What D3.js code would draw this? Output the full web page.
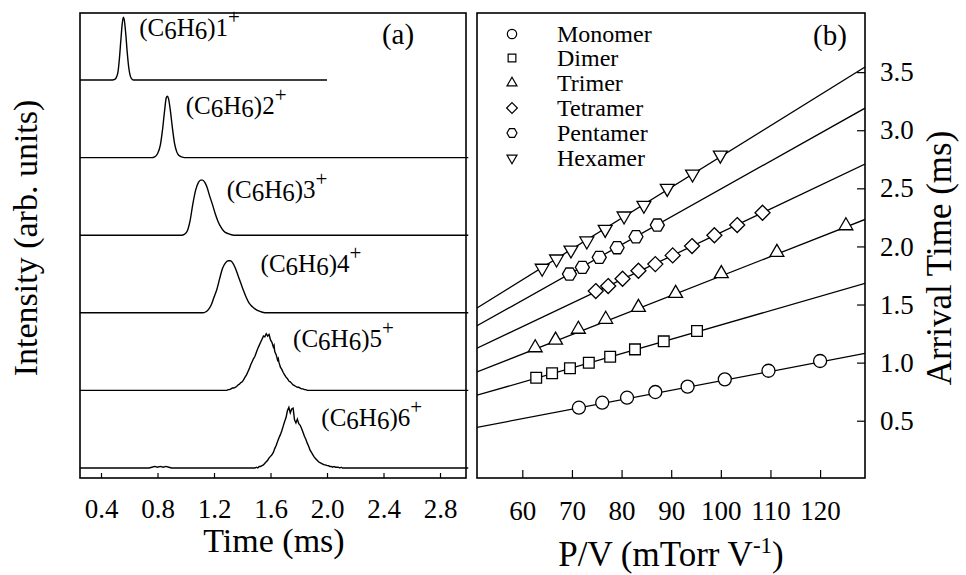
<!DOCTYPE html>
<html><head><meta charset="utf-8">
<script src="https://cdn.jsdelivr.net/npm/d3@7"></script>
<style>
html,body{margin:0;padding:0;background:#fff;}
svg{display:block;}
svg text{font-family:'Liberation Serif','Times New Roman','DejaVu Serif',serif !important;}
</style></head>
<body>
<svg id="chart" width="966" height="575"></svg>
<script>
// ---------- Panel (a): time-of-flight traces ----------
const traceNames = ["1","2","3","4","5","6"];
const traceOffsets = [5,4,3,2,1,0];
const trace1 = [[0.25,0],[0.48,0],[0.50,0.01],[0.51,0.04],[0.52,0.1],[0.53,0.27],[0.54,0.5],[0.55,0.72],[0.558,0.81],[0.565,0.77],[0.575,0.6],[0.585,0.37],[0.595,0.18],[0.605,0.07],[0.615,0.02],[0.63,0],[2.0,0]];
const trace2 = [[0.25,0],[0.76,0],[0.78,0.01],[0.80,0.05],[0.82,0.16],[0.835,0.35],[0.85,0.6],[0.862,0.77],[0.87,0.79],[0.878,0.76],[0.89,0.62],[0.905,0.39],[0.92,0.19],[0.935,0.08],[0.95,0.03],[0.97,0.01],[0.99,0],[3.0,0]];
const trace3 = [[0.25,0],[0.97,0],[0.99,0.01],[1.01,0.05],[1.03,0.18],[1.05,0.4],[1.07,0.58],[1.09,0.68],[1.105,0.71],[1.12,0.71],[1.135,0.68],[1.15,0.62],[1.17,0.5],[1.19,0.39],[1.21,0.27],[1.23,0.17],[1.25,0.1],[1.27,0.05],[1.30,0.02],[1.34,0],[3.0,0]];
const trace4 = [[0.25,0],[1.12,0],[1.14,0.01],[1.16,0.04],[1.18,0.1],[1.20,0.2],[1.22,0.3],[1.24,0.44],[1.26,0.57],[1.28,0.64],[1.30,0.67],[1.315,0.67],[1.33,0.65],[1.35,0.58],[1.37,0.48],[1.39,0.38],[1.41,0.28],[1.43,0.19],[1.45,0.12],[1.47,0.08],[1.49,0.05],[1.52,0.02],[1.56,0],[3.0,0]];
const trace5 = [[0.25,0],[1.28,0],[1.29,0],[1.30,0.01],[1.31,0.01],[1.32,0.02],[1.33,0.03],[1.34,0.03],[1.35,0.04],[1.36,0.05],[1.37,0.07],[1.38,0.08],[1.39,0.10],[1.40,0.11],[1.41,0.14],[1.42,0.17],[1.43,0.20],[1.44,0.24],[1.45,0.28],[1.46,0.33],[1.47,0.37],[1.48,0.41],[1.49,0.44],[1.50,0.49],[1.51,0.54],[1.52,0.58],[1.53,0.62],[1.54,0.66],[1.55,0.70],[1.56,0.69],[1.57,0.73],[1.58,0.70],[1.59,0.72],[1.60,0.65],[1.61,0.62],[1.62,0.56],[1.625,0.58],[1.63,0.50],[1.64,0.46],[1.65,0.39],[1.655,0.41],[1.66,0.36],[1.67,0.30],[1.68,0.27],[1.69,0.23],[1.70,0.20],[1.71,0.17],[1.72,0.15],[1.73,0.12],[1.74,0.11],[1.75,0.09],[1.76,0.07],[1.77,0.06],[1.78,0.05],[1.79,0.04],[1.80,0.04],[1.81,0.03],[1.82,0.02],[1.83,0.02],[1.84,0.01],[1.85,0.01],[1.86,0],[3.0,0]];
const trace6 = [[0.25,0],[0.74,0],[0.76,0.01],[0.78,0.02],[0.80,0.01],[0.82,0.02],[0.84,0.01],[0.86,0.02],[0.88,0.01],[0.90,0],[1.48,0],[1.49,0],[1.50,0.01],[1.51,0],[1.52,0.02],[1.53,0.02],[1.54,0.03],[1.55,0.04],[1.56,0.06],[1.57,0.08],[1.58,0.10],[1.59,0.13],[1.60,0.15],[1.61,0.17],[1.62,0.20],[1.63,0.25],[1.64,0.29],[1.65,0.34],[1.66,0.39],[1.67,0.43],[1.68,0.48],[1.69,0.54],[1.70,0.60],[1.71,0.65],[1.72,0.74],[1.73,0.78],[1.74,0.71],[1.75,0.76],[1.76,0.77],[1.77,0.62],[1.78,0.58],[1.79,0.63],[1.80,0.57],[1.81,0.55],[1.82,0.51],[1.83,0.46],[1.84,0.41],[1.85,0.37],[1.86,0.32],[1.87,0.28],[1.88,0.23],[1.89,0.20],[1.90,0.17],[1.91,0.14],[1.92,0.12],[1.93,0.10],[1.94,0.08],[1.95,0.07],[1.96,0.06],[1.97,0.05],[1.98,0.04],[1.99,0.04],[2.00,0.03],[2.01,0.03],[2.02,0.02],[2.03,0.02],[2.04,0.01],[2.05,0.02],[2.06,0.01],[2.07,0.01],[2.08,0.01],[2.09,0],[2.10,0.01],[2.11,0],[2.12,0],[3.0,0]];
const traceSmooth = [true,true,true,true,false,false];
const timeTicks = [0.4,0.8,1.2,1.6,2.0,2.4,2.8];
const labelTimes = [0.67,1.0,1.29,1.53,1.76,1.96];

// ---------- Panel (b): arrival time vs P/V ----------
const seriesNames = ["Monomer","Dimer","Trimer","Tetramer","Pentamer","Hexamer"];
const monomerX = [71.4,76.1,81.1,86.8,93.3,100.8,109.6,120.0];
const monomerY = [0.612,0.655,0.698,0.747,0.793,0.856,0.930,1.014];
const dimerX = [62.8,66.0,69.6,73.4,77.7,82.7,88.5,95.2];
const dimerY = [0.870,0.908,0.951,0.999,1.051,1.114,1.183,1.272];
const trimerX = [62.6,66.7,71.3,76.8,83.4,90.9,100.1,111.3,125.2];
const trimerY = [1.128,1.194,1.287,1.373,1.476,1.596,1.766,1.949,2.178];
const tetramerX = [74.8,77.3,80.2,83.4,86.8,90.3,94.2,98.7,103.3,108.4];
const tetramerY = [1.616,1.659,1.722,1.791,1.848,1.923,2.003,2.096,2.184,2.290];
const pentamerX = [69.5,72.1,75.5,79.1,82.9,87.2];
const pentamerY = [1.762,1.820,1.906,1.989,2.083,2.184];
const hexamerX = [64.0,66.9,69.8,73.0,76.7,80.5,84.5,89.2,94.3,99.9];
const hexamerY = [1.812,1.892,1.969,2.047,2.147,2.262,2.354,2.500,2.623,2.786];
const fitSlope = [0.00814,0.01231,0.01679,0.02026,0.02396,0.02653];
const fitIntercept = [0.0288,0.0930,0.0653,0.0936,0.0981,0.1207];
const pvTicks = [60,70,80,90,100,110,120];
const arrivalTicks = [0.5,1.0,1.5,2.0,2.5,3.0,3.5];

const svg = d3.select("#chart");
const FONT = "'Liberation Serif','Times New Roman','DejaVu Serif',serif";
function serif(sel){ return sel.style("font-family",FONT); }

// ---------- Panel (a) ----------
const A = {l:80, r:466, t:13, b:478};
const xa = d3.scaleLinear().domain([0.2513, 2.984]).range([A.l, A.r]);
const ya = d3.scaleLinear().domain([-0.129, 5.863]).range([A.b, A.t]);
const traces = [trace1,trace2,trace3,trace4,trace5,trace6];

const gA = svg.append("g");
traces.forEach((tr,i)=>{
  const line = d3.line()
    .x(d=>xa(d[0]))
    .y(d=>ya(d[1]+traceOffsets[i]))
    .curve(traceSmooth[i] ? d3.curveMonotoneX : d3.curveLinear);
  gA.append("path").datum(tr).attr("d",line)
    .attr("fill","none").attr("stroke","#000").attr("stroke-width",1.4);
});

// axis (ticks inward)
const axA = d3.axisBottom(xa).tickValues(timeTicks).tickFormat(d3.format(".1f")).tickSizeInner(-5).tickSizeOuter(0).tickPadding(14);
const gAx = svg.append("g").attr("transform",`translate(0,${A.b})`).call(axA).attr("font-family",null);
gAx.select(".domain").remove();
gAx.selectAll(".tick line").attr("stroke","#000").attr("stroke-width",1.2);
serif(gAx.selectAll(".tick text")).attr("font-size",27).attr("fill","#000").attr("dy","0.71em").attr("y",21);

svg.append("rect").attr("x",A.l).attr("y",A.t).attr("width",A.r-A.l).attr("height",A.b-A.t)
  .attr("fill","none").attr("stroke","#000").attr("stroke-width",1.6);

// trace labels
const labelY = [36,114,198,272,347,426];
traceNames.forEach((n,i)=>{
  const t = serif(svg.append("text")).attr("x",xa(labelTimes[i])).attr("y",labelY[i])
    .attr("font-size",25).attr("fill","#000");
  t.append("tspan").text("(C");
  t.append("tspan").attr("dy",3).text("6");
  t.append("tspan").attr("dy",-3).text("H");
  t.append("tspan").attr("dy",3).text("6");
  t.append("tspan").attr("dy",-3).text(")"+n);
  t.append("tspan").attr("dy",-12).attr("font-size",21).text("+");
});

serif(svg.append("text")).attr("x",398).attr("y",44).attr("text-anchor","middle")
  .attr("font-size",29).text("(a)");

serif(svg.append("text")).attr("x",274).attr("y",552).attr("text-anchor","middle")
  .attr("font-size",34).text("Time (ms)");
serif(svg.append("text")).attr("transform","translate(37,238) rotate(-90)").attr("text-anchor","middle")
  .attr("font-size",34).text("Intensity (arb. units)");

// ---------- Panel (b) ----------
const B = {l:477, r:865, t:13, b:478};
const xb = d3.scaleLinear().domain([50.87, 129.05]).range([B.l, B.r]);
const yb = d3.scaleLinear().domain([0.007, 4.009]).range([B.b, B.t]);

svg.append("defs").append("clipPath").attr("id","clipb")
  .append("rect").attr("x",B.l).attr("y",B.t).attr("width",B.r-B.l).attr("height",B.b-B.t);

const gB = svg.append("g").attr("clip-path","url(#clipb)");
const xd = xb.domain();
fitSlope.forEach((s,i)=>{
  const pts = xd.map(x=>[x, fitIntercept[i]+s*x]);
  gB.append("path").datum(pts)
    .attr("d",d3.line().x(d=>xb(d[0])).y(d=>yb(d[1])))
    .attr("fill","none").attr("stroke","#000").attr("stroke-width",1.3);
});

// symbol paths
function hexPath(r){ const p=[]; for(let k=0;k<6;k++){const a=Math.PI/3*k; p.push([r*Math.cos(a), r*Math.sin(a)]);} return "M"+p.map(q=>q.join(",")).join("L")+"Z"; }
function diamondPath(r){ return `M0,${-r}L${r},0L0,${r}L${-r},0Z`; }
function triPath(r, down){ const w=r*Math.sqrt(3); const s=down?-1:1;
  return `M0,${-s*r}L${w/2},${s*r/2}L${-w/2},${s*r/2}Z`; }
const symbolFns = [
  k=>d3.symbol(d3.symbolCircle, 133*k*k)(),
  k=>d3.symbol(d3.symbolSquare, 115*k*k)(),
  k=>triPath(8*k,false),
  k=>diamondPath(7.5*k),
  k=>hexPath(7*k),
  k=>triPath(8*k,true)
];
const seriesX = [monomerX,dimerX,trimerX,tetramerX,pentamerX,hexamerX];
const seriesY = [monomerY,dimerY,trimerY,tetramerY,pentamerY,hexamerY];
seriesX.forEach((xs,i)=>{
  const data = xs.map((x,j)=>[x, seriesY[i][j]]);
  svg.append("g").selectAll("path").data(data).join("path")
    .attr("d",symbolFns[i](1))
    .attr("transform",d=>`translate(${xb(d[0])},${yb(d[1])})`)
    .attr("fill","#fff").attr("stroke","#000").attr("stroke-width",1.3);
});

// axes (ticks inward)
const axB = d3.axisBottom(xb).tickValues(pvTicks).tickSizeInner(-8).tickSizeOuter(0).tickPadding(14);
const gBx = svg.append("g").attr("transform",`translate(0,${B.b})`).call(axB).attr("font-family",null);
gBx.select(".domain").remove();
gBx.selectAll(".tick line").attr("stroke","#000").attr("stroke-width",1.2);
serif(gBx.selectAll(".tick text")).attr("font-size",27).attr("fill","#000").attr("dy","0.71em").attr("y",23);

const axR = d3.axisRight(yb).tickValues(arrivalTicks).tickFormat(d3.format(".1f")).tickSizeInner(-8).tickSizeOuter(0).tickPadding(15);
const gBy = svg.append("g").attr("transform",`translate(${B.r},0)`).call(axR).attr("font-family",null);
gBy.select(".domain").remove();
gBy.selectAll(".tick line").attr("stroke","#000").attr("stroke-width",1.2);
serif(gBy.selectAll(".tick text")).attr("font-size",27).attr("fill","#000").attr("x",15);

svg.append("rect").attr("x",B.l).attr("y",B.t).attr("width",B.r-B.l).attr("height",B.b-B.t)
  .attr("fill","none").attr("stroke","#000").attr("stroke-width",1.6);

// legend
const legY = [34,58,83,108,133,158];
seriesNames.forEach((n,i)=>{
  svg.append("path").attr("d",symbolFns[i](0.72))
    .attr("transform",`translate(512,${legY[i]})`)
    .attr("fill","#fff").attr("stroke","#000").attr("stroke-width",1.2);
  serif(svg.append("text")).attr("x",557).attr("y",legY[i]+8)
    .attr("font-size",24).text(n);
});
serif(svg.append("text")).attr("x",830).attr("y",45).attr("text-anchor","middle")
  .attr("font-size",29).text("(b)");

// titles
const tx = serif(svg.append("text")).attr("x",671).attr("y",566).attr("text-anchor","middle")
  .attr("font-size",35);
tx.append("tspan").text("P/V (mTorr V");
tx.append("tspan").attr("dy",-13).attr("font-size",23).text("-1");
tx.append("tspan").attr("dy",13).text(")");

serif(svg.append("text")).attr("transform","translate(951,258) rotate(-90)").attr("text-anchor","middle")
  .attr("font-size",35).text("Arrival Time (ms)");
</script>
</body></html>
